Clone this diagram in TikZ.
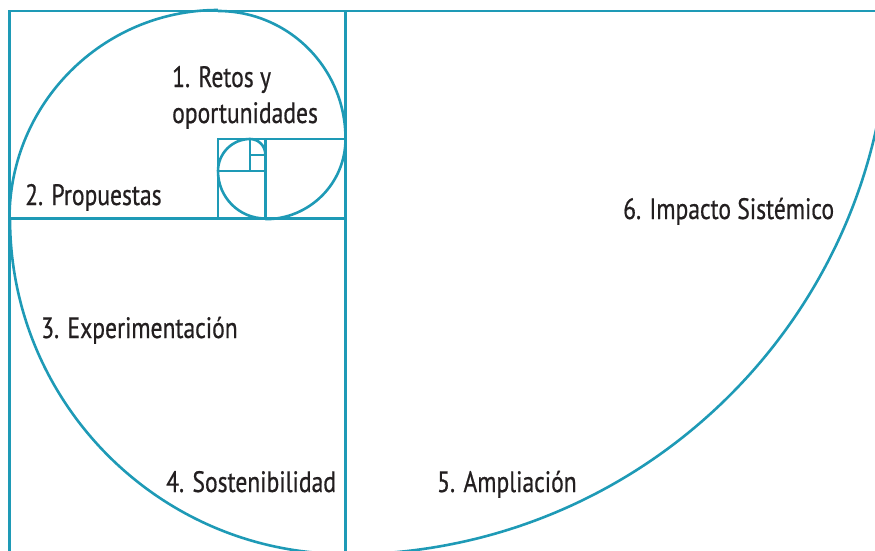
\documentclass[tikz,border=0pt]{standalone}
\usepackage{fontspec}
\setmainfont[FakeStretch=0.8,FakeBold=0.6]{PT Sans}
\definecolor{teal1}{RGB}{30,154,182}
\definecolor{txt}{RGB}{35,31,32}
\tikzset{
  frame/.style={draw=teal1,line width=2.8pt},
  spiral/.style={draw=teal1,line width=2.6pt},
  lbl/.style={anchor=base west,inner sep=0pt,text=txt,font=\fontsize{29.5}{36}\selectfont,align=left}
}
\begin{document}
\begin{tikzpicture}[x=1pt,y=1pt]
\useasboundingbox (0,0) rectangle (875,550);
\clip (0,0) rectangle (875,550);
% grid lines (pixel y converted: y = 550 - py)
\draw[frame] (9.5,-10) -- (9.5,539) -- (890,539);
\draw[frame] (345.5,-10) -- (345.5,539);
\draw[frame] (9.5,331.5) -- (345.5,331.5);
\draw[frame] (218,331.5) -- (218,411) -- (345.5,411);
\draw[frame] (265.3,331.5) -- (265.3,411);
\draw[frame] (218,379) -- (265.3,379);
\draw[frame] (250,379) -- (250,411);
\draw[frame] (250,395) -- (265.3,395);
% spiral
\coordinate (c1) at (345.5,539);
\coordinate (c2) at (345.5,331.5);
\coordinate (c3) at (218,331.5);
\coordinate (c4) at (218,411);
\coordinate (c5) at (265.3,411);
\coordinate (c6) at (265.3,379);
\coordinate (c7) at (250,379);
\coordinate (c8) at (250,395);
\draw[spiral] (c1) ++(0:543.5) arc[start angle=0,end angle=-90,radius=543.5];
\draw[spiral] (c2) ++(-90:335.5) arc[start angle=-90,end angle=-180,radius=335.5];
\draw[spiral] (c3) ++(180:208.5) arc[start angle=180,end angle=90,radius=208.5];
\draw[spiral] (c4) ++(90:128) arc[start angle=90,end angle=0,radius=127.5];
\draw[spiral] (c5) ++(0:80.2) arc[start angle=0,end angle=-90,radius=80.2];
\draw[spiral] (c6) ++(-90:47.5) arc[start angle=-90,end angle=-180,radius=47.3];
\draw[spiral] (c7) ++(180:32) arc[start angle=180,end angle=90,radius=32];
\draw[spiral] (c8) ++(90:16) arc[start angle=90,end angle=0,radius=15.3];
% labels
\node[lbl] (l1) at (172,427) {1. Retos y\\oportunidades};
\node[lbl] (l2) at (25,345) {2. Propuestas};
\node[lbl] (l3) at (41,212) {3. Experimentación};
\node[lbl] (l4) at (166,58) {4. Sostenibilidad};
\node[lbl] (l5) at (437,58) {5. Ampliación};
\node[lbl] (l6) at (623,331) {6. Impacto Sistémico};
\end{tikzpicture}
\end{document}
